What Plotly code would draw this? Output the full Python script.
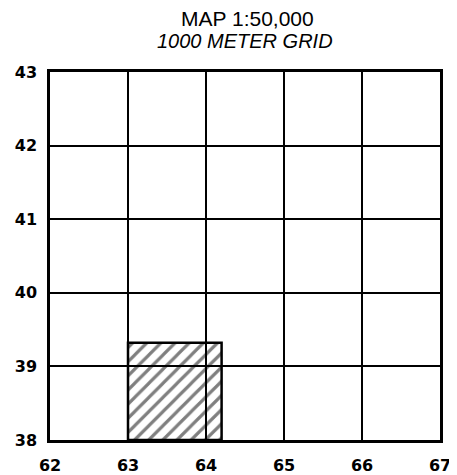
import plotly.graph_objects as go

# Data
x_ticks = [62, 63, 64, 65, 66, 67]
y_ticks = [38, 39, 40, 41, 42, 43]
area_x = [63.0, 64.2]   # hatched area easting extent
area_y = [38.0, 39.32]  # hatched area northing extent
title_lines = ["MAP 1:50,000", "<i>1000 METER GRID</i>"]

# page body has an 8px margin, so the figure is sized to fit the window
W, H = 449, 467
L, R, T, B = 42, 17, 64, 35
PW, PH = W - L - R, H - T - B


def px(xf):
    return (xf - L) / PW


def py(yf):
    return (H - B - yf) / PH


fig = go.Figure()
fig.add_trace(go.Bar(
    x=[(area_x[0] + area_x[1]) / 2],
    y=[area_y[1] - area_y[0]],
    base=[area_y[0]],
    width=[area_x[1] - area_x[0]],
    marker=dict(
        color="rgba(0,0,0,0)",
        line=dict(color="black", width=2.5),
        pattern=dict(shape="/", fgcolor="black", bgcolor="rgba(0,0,0,0)",
                     size=10, solidity=0.32),
    ),
    showlegend=False,
    hoverinfo="skip",
))

axis_common = dict(
    showgrid=True, gridcolor="black", gridwidth=1.5,
    showline=True, linecolor="black", linewidth=2.5, mirror=True,
    zeroline=False, ticks="", automargin=False,
    tickfont=dict(family="DejaVu Sans", size=16, color="black", weight="bold"),
)

annotations = [
    dict(text=title_lines[0], x=px(239), y=py(11), xref="paper", yref="paper",
         xanchor="center", yanchor="middle", showarrow=False,
         font=dict(family="Liberation Sans, Arial", size=21, color="black")),
    dict(text=title_lines[1], x=px(237), y=py(33), xref="paper", yref="paper",
         xanchor="center", yanchor="middle", showarrow=False,
         font=dict(family="Liberation Sans, Arial", size=20, color="black")),
]

fig.update_layout(
    width=W, height=H,
    margin=dict(l=L, r=R, t=T, b=B, autoexpand=False),
    paper_bgcolor="white", plot_bgcolor="white",
    annotations=annotations,
    xaxis=dict(range=[x_ticks[0], x_ticks[-1]], tickvals=x_ticks, ticklabelstandoff=9, **axis_common),
    yaxis=dict(range=[y_ticks[0], y_ticks[-1]], tickvals=y_ticks, ticklabelstandoff=7, **axis_common),
)

fig.write_html("out.html")
